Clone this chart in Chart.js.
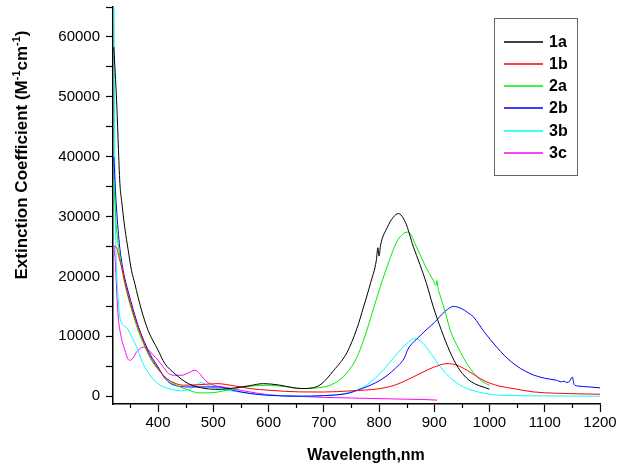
<!DOCTYPE html>
<html>
<head>
<meta charset="utf-8">
<script src="https://cdn.jsdelivr.net/npm/chart.js@4.4.1/dist/chart.umd.min.js"></script>
<style>
  body { margin: 0; background: #fff; }
  canvas { display: block; }
</style>
</head>
<body>
<canvas id="myChart" width="624" height="473"></canvas>
<script>
// spectra (wavelength nm, extinction M-1 cm-1)

const wl1a = [320, 325, 331, 334, 340, 346, 352, 358, 364, 370, 382, 400, 412, 430, 455, 485, 510, 540, 565, 591, 620, 640, 660, 680, 695, 718, 742, 760, 772, 785, 795, 798, 800, 803, 815, 825, 835, 848, 862, 874, 886, 898, 913, 928, 943, 959, 975, 990, 1000]
const ext1a = [58300, 49400, 35500, 32700, 28000, 24400, 21000, 18800, 16500, 14400, 11000, 7700, 5500, 3800, 2100, 1300, 1150, 1400, 1750, 2100, 1850, 1500, 1280, 1400, 2000, 4300, 7300, 11300, 14900, 19000, 22600, 24800, 23400, 25300, 28200, 29800, 30500, 29000, 25000, 22000, 18800, 15000, 11000, 7500, 4800, 3000, 2000, 1500, 1170]

const wl1b = [320, 325, 330, 334, 340, 350, 360, 370, 380, 390, 400, 415, 430, 446, 470, 507, 540, 567, 600, 657, 700, 750, 802, 830, 862, 890, 910, 923, 940, 960, 983, 1000, 1019, 1043, 1079, 1120, 1160, 1200]
const ext1b = [25000, 24800, 23000, 21600, 19000, 15500, 12500, 10000, 7700, 6000, 4600, 3000, 2200, 1840, 1900, 2100, 1700, 1280, 1000, 720, 700, 900, 1280, 1900, 3220, 4500, 5200, 5450, 5200, 4300, 2950, 2200, 1670, 1280, 720, 500, 400, 330]

const wl2a = [320, 324, 330, 340, 352, 364, 376, 388, 400, 415, 430, 450, 476, 500, 537, 570, 597, 630, 657, 690, 720, 741, 760, 772, 788, 802, 818, 832, 845, 853, 868, 883, 898, 903, 905, 907, 910, 920, 929, 944, 959, 975, 990, 1000]
const ext2a = [36000, 29000, 24000, 18800, 14500, 11000, 8300, 6000, 4500, 3000, 2000, 1200, 550, 600, 1280, 1700, 1840, 1600, 1280, 1400, 2200, 3800, 6500, 9350, 14000, 18200, 22500, 25750, 27200, 27400, 24900, 21900, 19360, 18500, 19300, 18000, 17000, 14000, 11000, 8000, 5450, 3500, 2300, 1840]

const wl2b = [320, 324, 330, 338, 346, 355, 365, 378, 390, 400, 410, 420, 435, 452, 480, 507, 540, 567, 600, 657, 700, 742, 770, 802, 830, 848, 850, 870, 900, 920, 935, 950, 960, 971, 990, 1013, 1040, 1073, 1100, 1121, 1130, 1135, 1140, 1145, 1150, 1153, 1160, 1180, 1200]
const ext2b = [40000, 32700, 25500, 20500, 17500, 14500, 11500, 8500, 6300, 4900, 3300, 2300, 1700, 1550, 1550, 1550, 900, 450, 150, 0, 100, 450, 1300, 2670, 4700, 6800, 7400, 9700, 12300, 14200, 15000, 14600, 14000, 13230, 10800, 8200, 5700, 3800, 3000, 2670, 2400, 2500, 2300, 2500, 3200, 2000, 1700, 1550, 1400]

const wl3b = [320, 321, 322, 324, 327, 332, 343, 352, 361, 370, 379, 388, 400, 419, 443, 460, 473, 478, 485, 507, 540, 567, 600, 657, 700, 740, 772, 802, 830, 850, 865, 880, 895, 911, 930, 953, 980, 1019, 1100, 1200]
const ext3b = [70000, 52000, 36000, 24000, 17500, 12700, 11500, 10000, 8300, 6000, 4400, 3200, 2100, 1280, 900, 1300, 2100, 2300, 2000, 1280, 800, 450, 200, 0, 100, 500, 1550, 3800, 6800, 8800, 9630, 8800, 7000, 4900, 3000, 1550, 700, 170, 50, 0]

const wl3c = [320, 323, 326, 328, 333, 340, 345, 349, 355, 362, 370, 376, 382, 390, 400, 410, 419, 430, 443, 455, 467, 475, 485, 500, 520, 549, 580, 609, 650, 700, 750, 800, 850, 880, 905]
const ext3c = [25200, 22000, 16000, 13200, 10000, 7700, 6300, 6000, 6400, 7500, 8100, 8200, 7800, 7000, 6000, 4800, 3800, 3500, 3500, 3900, 4340, 3800, 2670, 1840, 1500, 1000, 500, 170, 0, -200, -300, -400, -500, -550, -650]

const seriesNames = ['1a', '1b', '2a', '2b', '3b', '3c']
const seriesWl = [wl1a, wl1b, wl2a, wl2b, wl3b, wl3c]
const seriesExt = [ext1a, ext1b, ext2a, ext2b, ext3b, ext3c]
const seriesColors = ['#000000', '#ff0000', '#00ee00', '#0000ff', '#00ffff', '#ff00ff']

// tick positions (labelled every 100 nm / 10000)
const xTicks = [350, 400, 450, 500, 550, 600, 650, 700, 750, 800, 850, 900, 950, 1000, 1050, 1100, 1150, 1200]
const yTicks = [0, 5000, 10000, 15000, 20000, 25000, 30000, 35000, 40000, 45000, 50000, 55000, 60000, 65000]

const FONT = 'Arial, "Liberation Sans", sans-serif'

const toPoints = (xs, ys) => xs.map((x, i) => ({ x: x, y: ys[i] }))

// minor ticks on x, axis titles and boxed legend
const decorations = {
    id: 'decorations',
    afterDraw(chart) {
        const ctx = chart.ctx
        const xs = chart.scales.x
        const bottom = chart.chartArea.bottom
        ctx.save()
        ctx.strokeStyle = '#000'
        ctx.lineWidth = 1.2
        xTicks.forEach(v => {
            if (v % 100 !== 0) {
                const px = Math.round(xs.getPixelForValue(v)) + 0.5
                ctx.beginPath()
                ctx.moveTo(px, bottom)
                ctx.lineTo(px, bottom + 4)
                ctx.stroke()
            }
        })

        // x title
        ctx.fillStyle = '#000'
        ctx.font = 'bold 16px ' + FONT
        ctx.textAlign = 'center'
        ctx.textBaseline = 'alphabetic'
        ctx.fillText('Wavelength,nm', 366, 460)

        // y title with superscripts
        const parts = [
            ['Extinction Coefficient (M', false],
            ['-1', true],
            ['cm', false],
            ['-1', true],
            [')', false]
        ]
        const big = 'bold 17px ' + FONT
        const small = 'bold 11px ' + FONT
        let total = 0
        parts.forEach(p => { ctx.font = p[1] ? small : big; total += ctx.measureText(p[0]).width })
        ctx.translate(27, 155)
        ctx.rotate(-Math.PI / 2)
        ctx.textAlign = 'left'
        let x = -total / 2
        parts.forEach(p => {
            ctx.font = p[1] ? small : big
            ctx.fillText(p[0], x, p[1] ? -7 : 0)
            x += ctx.measureText(p[0]).width
        })
        ctx.restore()

        // legend
        ctx.save()
        ctx.strokeStyle = '#666'
        ctx.lineWidth = 1
        ctx.strokeRect(494.5, 18.5, 83, 157)
        ctx.font = 'bold 16px ' + FONT
        ctx.textBaseline = 'middle'
        ctx.textAlign = 'left'
        seriesNames.forEach((name, i) => {
            const y = Math.round(41.7 + i * 22.2)
            ctx.strokeStyle = seriesColors[i]
            ctx.lineWidth = 1.3
            ctx.beginPath()
            ctx.moveTo(504, y)
            ctx.lineTo(543, y)
            ctx.stroke()
            ctx.fillStyle = '#000'
            ctx.fillText(name, 549, y + 1)
        })
        ctx.restore()
    }
}

const ctx = document.getElementById('myChart')
new Chart(ctx, {
    type: 'line',
    data: {
        datasets: seriesNames.map((name, i) => ({
            label: name,
            data: toPoints(seriesWl[i], seriesExt[i]),
            borderColor: seriesColors[i],
            borderWidth: 1,
            pointRadius: 0,
            cubicInterpolationMode: 'monotone',
            fill: false
        }))
    },
    options: {
        responsive: false,
        animation: false,
        layout: {
            padding: { top: 7, right: 24, left: 0, bottom: 0 }
        },
        scales: {
            x: {
                type: 'linear',
                min: 318.5,
                max: 1200,
                afterFit: (scale) => {
                    scale.height = 69
                    scale.paddingLeft = 0
                    scale.paddingRight = 0
                },
                afterBuildTicks: (scale) => {
                    scale.ticks = xTicks.map(v => ({ value: v }))
                },
                border: { color: '#000', width: 1.5 },
                grid: {
                    drawOnChartArea: false,
                    tickLength: 8,
                    tickWidth: 1.2,
                    tickColor: (c) => (c.tick && c.tick.value % 100 === 0) ? '#000' : 'rgba(0,0,0,0)'
                },
                ticks: {
                    autoSkip: false,
                    maxRotation: 0,
                    padding: 2,
                    color: '#000',
                    font: { family: FONT, size: 15 },
                    callback: (v) => v % 100 === 0 ? String(v) : ''
                }
            },
            y: {
                type: 'linear',
                min: -1300,
                max: 65000,
                afterFit: (scale) => {
                    scale.width = 113
                    scale.paddingTop = 0
                    scale.paddingBottom = 0
                },
                afterBuildTicks: (scale) => {
                    scale.ticks = yTicks.map(v => ({ value: v }))
                },
                border: { color: '#000', width: 1.5 },
                grid: {
                    drawOnChartArea: false,
                    tickLength: 7,
                    tickWidth: 1.2,
                    tickColor: '#000'
                },
                ticks: {
                    autoSkip: false,
                    padding: 6,
                    color: '#000',
                    font: { family: FONT, size: 15 },
                    callback: (v) => v % 10000 === 0 ? String(v) : ''
                }
            }
        },
        plugins: {
            legend: { display: false },
            tooltip: { enabled: false }
        }
    },
    plugins: [decorations]
})
</script>
</body>
</html>
